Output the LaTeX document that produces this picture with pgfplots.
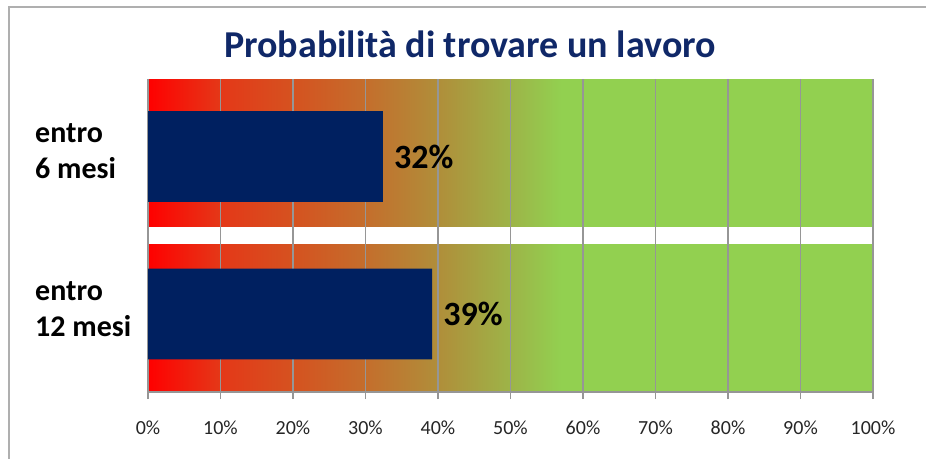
\documentclass[border=0pt]{standalone}
\usepackage{pgfplots}
\pgfplotsset{compat=1.18}
\usepackage{fontspec}
\setmainfont{Carlito}
\definecolor{barblue}{RGB}{0,32,96}
\definecolor{titleblue}{RGB}{16,40,104}
\definecolor{gridgray}{RGB}{150,150,150}
\definecolor{framegray}{RGB}{175,175,175}
% horizontal gradient; percentage p of the bar maps to 25+p/2 bp
\pgfdeclarehorizontalshading{bandshade}{100bp}{%
 rgb(0bp)=(1,0,0);
 rgb(25bp)=(1,0,0);
 rgb(30bp)=(0.894,0.220,0.094);
 rgb(35bp)=(0.835,0.322,0.125);
 rgb(40bp)=(0.769,0.431,0.173);
 rgb(45bp)=(0.690,0.557,0.227);
 rgb(50bp)=(0.616,0.706,0.282);
 rgb(53.5bp)=(0.573,0.816,0.314);
 rgb(75bp)=(0.573,0.816,0.314);
 rgb(100bp)=(0.573,0.816,0.314)}
\begin{document}
\begin{tikzpicture}
% picture coordinates: axis lower-left corner at (0,0); 1px = 1pt
\draw[framegray, line width=1.6pt] (-139pt,385pt) rectangle (797pt,-83pt);
\node[font=\fontsize{38}{44}\selectfont\bfseries, text=titleblue, anchor=base, inner sep=0pt] at (322pt,334pt) {Probabilità di trovare un lavoro};
\begin{axis}[
 set layers,
 scale only axis, width=725pt, height=313pt,
 xmin=0, xmax=100,
 ymin=-0.495, ymax=1.492,
 axis x line*=bottom, axis y line*=left,
 axis line style={-, gridgray, line width=1.3pt},
 xtick={0,10,...,100},
 xticklabel={\pgfmathprintnumber{\tick}\%},
 /pgf/number format/assume math mode=true,
 xmajorgrids, grid style={gridgray, line width=1.3pt},
 tick align=outside, major tick length=7pt,
 x tick style={gridgray, line width=1.3pt},
 xticklabel style={font=\fontsize{20}{24}\selectfont, text=black!85, anchor=base, yshift=-35pt},
 ytick={0,1}, yticklabels={entro\\12 mesi, entro\\6 mesi},
 y tick style={draw=none},
 yticklabel style={font=\fontsize{30}{36}\selectfont\bfseries, align=left, anchor=west, inner sep=0pt, xshift=-106pt, yshift=5pt},
 clip=false,
]
% gradient bands (background bars at 100%)
\addplot[xbar, bar shift=0pt, bar width=0.939, draw=none, shading=bandshade, shading angle=0, on layer=axis background]
  coordinates {(100,-0.0255) (100,1.022)};
% data bars
\addplot[xbar, bar shift=0pt, bar width=0.575, draw=none, fill=barblue,
  point meta=x,
  nodes near coords={\pgfmathprintnumber[fixed,precision=0]{\pgfplotspointmeta}\%},
  nodes near coords style={anchor=west, inner sep=0pt, xshift=11pt, font=\fontsize{34}{40}\selectfont\bfseries, text=black}]
  coordinates {(39.2,0) (32.4,1)};
\end{axis}
\pgfresetboundingbox
\useasboundingbox (-148pt,392pt) rectangle (778pt,-66pt);
\end{tikzpicture}
\end{document}
